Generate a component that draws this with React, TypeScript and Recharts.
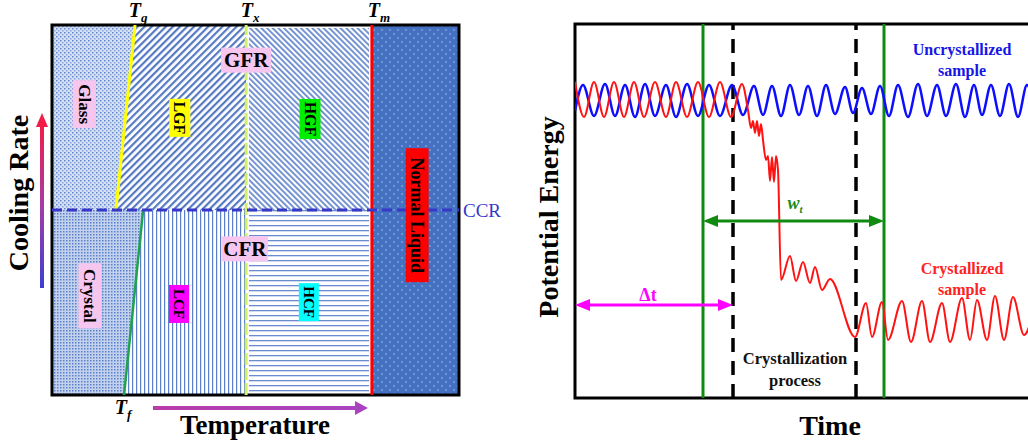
import React from 'react'
import {
  ComposedChart, Area, Line, XAxis, YAxis,
  ReferenceLine, ReferenceArea, ReferenceDot,
} from 'recharts'

const FONT = '"Liberation Serif", "Times New Roman", serif'
const PINK = '#f7c6ef'

// ---------- left panel: temperature (x 0-100) vs cooling rate (y 0-100)
const CCR = 50
const TX = 47.7
const TM = 78.6

const tgLine = [{ x: 15.7, y: 50 }, { x: 20.4, y: 100 }]
const tfLine = [{ x: 17.7, y: 0 }, { x: 22.4, y: 50 }]

// region outlines (each area is filled from its curve to a base value)
const glassRegion = [{ x: 0, y: 50 }, { x: 15.7, y: 50 }, { x: 20.4, y: 100 }]     // base 100
const lgfRegion = [{ x: 15.7, y: 50 }, { x: 20.4, y: 100 }, { x: 47.7, y: 100 }]  // base 50
const hgfRegion = [{ x: 48.4, y: 99.2 }, { x: 77.9, y: 99.2 }]                    // base 50
const crystalRegion = [{ x: 0, y: 0 }, { x: 17.7, y: 0 }, { x: 22.4, y: 50 }]      // base 50
const lcfRegion = [{ x: 17.7, y: 0 }, { x: 22.4, y: 50 }, { x: 47.7, y: 50 }]     // base 0
const hcfRegion = [{ x: 48.4, y: 50 }, { x: 77.9, y: 50 }]                        // base 0
const liquidRegion = [{ x: 78.6, y: 100 }, { x: 100, y: 100 }]                    // base 0

// ---------- right panel: time (0-460) vs potential energy (0-374)
const uncrystallized = [
  [0, 287], [8, 313], [19, 282], [30, 314], [40, 282], [50, 313], [60, 281], [70, 314],
  [80, 282], [91, 313], [101, 281], [112, 314], [123, 282], [134, 313], [145, 282], [157, 313],
  [168, 283], [179, 312], [188, 283], [197, 312], [206, 282], [215, 313], [224, 283], [233, 312],
  [242, 282], [251, 313], [260, 284], [270, 311], [278, 285], [287, 310], [296, 284], [305, 312],
  [314, 282], [323, 313], [333, 281], [343, 314], [352, 282], [362, 313], [371, 282], [381, 314],
  [390, 281], [399, 313], [407, 283], [416, 313], [425, 282], [434, 314], [443, 281], [452, 313],
  [460, 284],
].map(([t, e]) => ({ t, e }))

const crystallized = [
  [0, 316], [9, 281], [19, 316], [29, 281], [39, 316], [49, 281], [59, 316], [69, 281],
  [80, 316], [91, 281], [101, 316], [112, 281], [123, 316], [134, 281], [145, 316], [156, 281],
  [167, 314], [173, 288], [176, 270], [178, 277], [180, 265], [182, 277], [184, 262], [186, 274],
  [188, 258], [191, 238], [193, 242], [195, 217], [197, 241], [199, 216], [201, 242], [203, 228],
  [206, 118], [215, 142], [221, 117], [228, 136], [235, 115], [240, 131], [247, 108], [255, 119],
  [280, 61], [291, 95], [297, 61], [307, 96], [313, 58], [327, 97], [336, 56], [347, 97],
  [355, 56], [367, 95], [375, 56], [387, 100], [395, 58], [402, 98], [412, 58], [420, 102],
  [429, 58], [438, 101], [449, 63], [460, 92],
].map(([t, e]) => ({ t, e }))

const windowBounds = [128, 309]   // w_t, solid green
const processBounds = [158, 281]  // crystallization process, dashed black

// ---------- label helpers
function center(p: any) {
  const vb = p.viewBox || {}
  return { cx: (vb.x ?? 0) + (vb.width ?? 0) / 2, cy: (vb.y ?? 0) + (vb.height ?? 0) / 2 }
}

const boxLabel = (text: string, bg: string, w: number, h: number, fs: number, rot = 90) => (p: any) => {
  const { cx, cy } = center(p)
  return (
    <g transform={`translate(${cx},${cy}) rotate(${rot})`}>
      <rect x={-w / 2} y={-h / 2} width={w} height={h} fill={bg} />
      <text textAnchor="middle" dominantBaseline="central" fontFamily={FONT}
        fontWeight="bold" fontSize={fs} fill="#000">{text}</text>
    </g>
  )
}

const tLabel = (sub: string, dx: number, dy: number) => (p: any) => {
  const { cx, cy } = center(p)
  return (
    <text x={cx + dx} y={cy + dy} textAnchor="middle" fontFamily={FONT}
      fontWeight="bold" fontStyle="italic" fontSize={20} fill="#000">
      T<tspan fontSize={13} dy={5}>{sub}</tspan>
    </text>
  )
}

const lines = (rows: string[], color: string, fs: number, gap: number) => (p: any) => {
  const { cx, cy } = center(p)
  return (
    <text textAnchor="middle" fontFamily={FONT} fontWeight="bold" fontSize={fs} fill={color}>
      {rows.map((r, i) => (
        <tspan key={i} x={cx} y={cy + (i - (rows.length - 1) / 2) * gap} dominantBaseline="central">{r}</tspan>
      ))}
    </text>
  )
}

const arrowShape = (color: string, width: number, head: number, both: boolean) => (p: any) => {
  const { x1, y1, x2, y2 } = p
  return (
    <g>
      <line x1={both ? x1 + head : x1} y1={y1} x2={x2 - head} y2={y2} stroke={color} strokeWidth={width} />
      {both && <polygon points={`${x1},${y1} ${x1 + head + 1},${y1 - 6} ${x1 + head + 1},${y1 + 6}`} fill={color} />}
      <polygon points={`${x2},${y2} ${x2 - head - 1},${y2 - 6} ${x2 - head - 1},${y2 + 6}`} fill={color} />
    </g>
  )
}

function CoolingLabel(p: any) {
  const { x, y } = p.viewBox
  const ax = x + 42
  return (
    <g>
      <rect x={ax - 2} y={y + 100} width={4} height={163} fill="url(#gCool)" />
      <polygon points={`${ax},${y + 88} ${ax - 6},${y + 102} ${ax + 6},${y + 102}`} fill="#f21c48" />
      <text transform={`translate(${x + 18},${y + 168}) rotate(-90)`} textAnchor="middle"
        dominantBaseline="central" fontFamily={FONT} fontWeight="bold" fontSize={28} fill="#000">
        Cooling Rate
      </text>
    </g>
  )
}

function TemperatureLabel(p: any) {
  const { x, y } = p.viewBox
  return (
    <g>
      <rect x={x + 101} y={y + 11} width={204} height={4} fill="url(#gTemp)" />
      <polygon points={`${x + 316},${y + 13} ${x + 303},${y + 6} ${x + 303},${y + 20}`} fill="#a844c0" />
      <text x={x + 203} y={y + 30} textAnchor="middle" dominantBaseline="central"
        fontFamily={FONT} fontWeight="bold" fontSize={27} fill="#000">Temperature</text>
    </g>
  )
}

function EnergyLabel(p: any) {
  const { x, y, height } = p.viewBox
  return (
    <text transform={`translate(${x + 28},${y + height / 2 + 6}) rotate(-90)`} textAnchor="middle"
      dominantBaseline="central" fontFamily={FONT} fontWeight="bold" fontSize={28} fill="#000">
      Potential Energy
    </text>
  )
}

function TimeLabel(p: any) {
  const { x, y } = p.viewBox
  return (
    <text x={x + 255} y={y + 27} textAnchor="middle" dominantBaseline="central"
      fontFamily={FONT} fontWeight="bold" fontSize={28} fill="#000">Time</text>
  )
}

function WtLabel(p: any) {
  const { cx, cy } = center(p)
  return (
    <text x={cx} y={cy} textAnchor="middle" fontFamily={FONT} fontWeight="bold"
      fontStyle="italic" fontSize={18} fill="#1a8a1a">
      w<tspan fontSize={11} dy={4}>t</tspan>
    </text>
  )
}

function PhaseMap() {
  return (
    <ComposedChart width={520} height={446} margin={{ top: 25, right: 61, bottom: 0, left: 0 }}>
      <defs>
        <pattern id="pGlass" width="4" height="4" patternUnits="userSpaceOnUse">
          <rect width="4" height="4" fill="#d6e0f3" />
          <rect x="0" y="0" width="1.5" height="1.5" fill="#5f86cc" />
          <rect x="2" y="2" width="1.5" height="1.5" fill="#86a3da" />
        </pattern>
        <pattern id="pLgf" width="5" height="5" patternUnits="userSpaceOnUse" patternTransform="rotate(45)">
          <rect width="5" height="5" fill="#fff" />
          <rect width="2.2" height="5" fill="#5579c2" />
        </pattern>
        <pattern id="pHgf" width="4" height="4" patternUnits="userSpaceOnUse" patternTransform="rotate(-45)">
          <rect width="4" height="4" fill="#fff" />
          <rect width="1.8" height="4" fill="#6789cc" />
        </pattern>
        <pattern id="pLiquid" width="8" height="8" patternUnits="userSpaceOnUse">
          <rect width="8" height="8" fill="#4471c2" />
          <circle cx="2" cy="2" r="0.8" fill="#a8bfe8" />
          <circle cx="6" cy="6" r="0.8" fill="#a8bfe8" />
        </pattern>
        <pattern id="pCrystal" width="3" height="3" patternUnits="userSpaceOnUse">
          <rect width="3" height="3" fill="#c2d1ee" />
          <rect width="1.5" height="1.5" fill="#5a80c8" />
        </pattern>
        <pattern id="pLcf" width="4" height="4" patternUnits="userSpaceOnUse">
          <rect width="4" height="4" fill="#fff" />
          <rect width="1.2" height="4" fill="#5b80c9" />
        </pattern>
        <pattern id="pHcf" width="5" height="5" patternUnits="userSpaceOnUse">
          <rect width="5" height="5" fill="#fff" />
          <rect width="5" height="1.3" fill="#6a8bd0" />
        </pattern>
        <linearGradient id="gCool" x1="0" y1="0" x2="0" y2="1">
          <stop offset="0%" stopColor="#f21c48" />
          <stop offset="50%" stopColor="#a43ca6" />
          <stop offset="100%" stopColor="#3b3fd2" />
        </linearGradient>
        <linearGradient id="gTemp" x1="0" y1="0" x2="1" y2="0">
          <stop offset="0%" stopColor="#b83ca8" />
          <stop offset="100%" stopColor="#a844c0" />
        </linearGradient>
      </defs>
      <XAxis type="number" dataKey="x" domain={[0, 100]} allowDataOverflow height={51}
        tick={false} tickLine={false} axisLine={false} label={TemperatureLabel} />
      <YAxis type="number" dataKey="y" domain={[0, 100]} allowDataOverflow width={52}
        tick={false} tickLine={false} axisLine={false} label={CoolingLabel} />

      <Area data={glassRegion} dataKey="y" type="linear" baseValue={100} fill="url(#pGlass)" fillOpacity={1} stroke="none" isAnimationActive={false} />
      <Area data={lgfRegion} dataKey="y" type="linear" baseValue={CCR} fill="url(#pLgf)" fillOpacity={1} stroke="none" isAnimationActive={false} />
      <Area data={hgfRegion} dataKey="y" type="linear" baseValue={CCR} fill="url(#pHgf)" fillOpacity={1} stroke="none" isAnimationActive={false} />
      <Area data={crystalRegion} dataKey="y" type="linear" baseValue={CCR} fill="url(#pCrystal)" fillOpacity={1} stroke="none" isAnimationActive={false} />
      <Area data={lcfRegion} dataKey="y" type="linear" baseValue={0} fill="url(#pLcf)" fillOpacity={1} stroke="none" isAnimationActive={false} />
      <Area data={hcfRegion} dataKey="y" type="linear" baseValue={0} fill="url(#pHcf)" fillOpacity={1} stroke="none" isAnimationActive={false} />
      <Area data={liquidRegion} dataKey="y" type="linear" baseValue={0} fill="url(#pLiquid)" fillOpacity={1} stroke="none" isAnimationActive={false} />

      <Line data={tgLine} dataKey="y" type="linear" stroke="#ffff00" strokeWidth={3} dot={false} isAnimationActive={false} />
      <Line data={tfLine} dataKey="y" type="linear" stroke="#1fa34e" strokeWidth={2.5} dot={false} isAnimationActive={false} />

      <ReferenceLine x={TX} stroke="#d2f06a" strokeWidth={3} strokeDasharray="12 3" />
      <ReferenceLine x={TM} stroke="#ff0000" strokeWidth={3} />
      <ReferenceLine y={CCR} stroke="#3838c8" strokeWidth={3} strokeDasharray="10 5"
        label={{ value: 'CCR', position: 'right', fill: '#3838c8', fontSize: 19, fontFamily: FONT, offset: 4 }} />
      <ReferenceArea x1={0} x2={100} y1={0} y2={100} fill="none" fillOpacity={0} stroke="#000" strokeWidth={3} />

      <ReferenceDot x={7.9} y={78.6} r={0} fill="none" stroke="none" label={boxLabel('Glass', PINK, 48, 23, 17)} />
      <ReferenceDot x={31.4} y={74.9} r={0} fill="none" stroke="none" label={boxLabel('LGF', '#ffff00', 38, 21, 16)} />
      <ReferenceDot x={63.4} y={74.6} r={0} fill="none" stroke="none" label={boxLabel('HGF', '#00ee00', 40, 21, 16)} />
      <ReferenceDot x={47.7} y={90.5} r={0} fill="none" stroke="none" label={boxLabel('GFR', PINK, 50, 25, 21, 0)} />
      <ReferenceDot x={89.7} y={48.6} r={0} fill="none" stroke="none" label={boxLabel('Normal Liquid', '#ff0000', 134, 23, 18)} />
      <ReferenceDot x={9.3} y={26.8} r={0} fill="none" stroke="none" label={boxLabel('Crystal', PINK, 65, 23, 17)} />
      <ReferenceDot x={31.2} y={24.6} r={0} fill="none" stroke="none" label={boxLabel('LCF', '#ff00ff', 38, 20, 15)} />
      <ReferenceDot x={47.4} y={39.5} r={0} fill="none" stroke="none" label={boxLabel('CFR', PINK, 46, 25, 21, 0)} />
      <ReferenceDot x={63.1} y={25.1} r={0} fill="none" stroke="none" label={boxLabel('HCF', '#00ffff', 38, 20, 15)} />

      <ReferenceDot x={20.4} y={100} r={0} fill="none" stroke="none" label={tLabel('g', 3, -8)} />
      <ReferenceDot x={TX} y={100} r={0} fill="none" stroke="none" label={tLabel('x', 4, -8)} />
      <ReferenceDot x={TM} y={100} r={0} fill="none" stroke="none" label={tLabel('m', 7, -8)} />
      <ReferenceDot x={17.7} y={0} r={0} fill="none" stroke="none" label={tLabel('f', -1, 19)} />
    </ComposedChart>
  )
}

function EnergyTrace() {
  return (
    <ComposedChart width={520} height={446} margin={{ top: 24, right: 5, bottom: 0, left: 0 }}>
      <XAxis type="number" dataKey="t" domain={[0, 460]} allowDataOverflow height={48}
        tick={false} tickLine={false} axisLine={false} label={TimeLabel} />
      <YAxis type="number" dataKey="e" domain={[0, 374]} allowDataOverflow width={55}
        tick={false} tickLine={false} axisLine={false} label={EnergyLabel} />

      {processBounds.map(t => (
        <ReferenceLine key={t} x={t} stroke="#000" strokeWidth={3.5} strokeDasharray="14 9" />
      ))}
      {windowBounds.map(t => (
        <ReferenceLine key={t} x={t} stroke="#118a11" strokeWidth={3} />
      ))}

      <Line data={uncrystallized} dataKey="e" type="monotone" stroke="#0d0dff" strokeWidth={2.5} dot={false} isAnimationActive={false} />
      <Line data={crystallized} dataKey="e" type="monotone" stroke="#ff1212" strokeWidth={2} dot={false} isAnimationActive={false} />

      <ReferenceLine segment={[{ x: windowBounds[0], y: 177 }, { x: windowBounds[1], y: 177 }]}
        shape={arrowShape('#118a11', 3, 14, true)} />
      <ReferenceLine segment={[{ x: 0, y: 93 }, { x: processBounds[0], y: 93 }]}
        shape={arrowShape('#ff00ff', 3, 14, true)} />

      <ReferenceArea x1={0} x2={460} y1={0} y2={374} fill="none" fillOpacity={0} stroke="#000" strokeWidth={3} />

      <ReferenceDot x={220} y={189} r={0} fill="none" stroke="none" label={WtLabel} />
      <ReferenceDot x={73} y={103} r={0} fill="none" stroke="none" label={lines(['\u0394t'], '#ff00ff', 18, 0)} />
      <ReferenceDot x={387} y={338} r={0} fill="none" stroke="none" label={lines(['Uncrystallized', 'sample'], '#1515e6', 16, 21)} />
      <ReferenceDot x={387} y={119} r={0} fill="none" stroke="none" label={lines(['Crystallized', 'sample'], '#ff2222', 16, 21)} />
      <ReferenceDot x={220} y={29} r={0} fill="none" stroke="none" label={lines(['Crystallization', 'process'], '#111', 16.5, 22)} />
    </ComposedChart>
  )
}

export default function App() {
  return (
    <div style={{
      position: 'fixed', left: 0, top: 0, width: 1028, height: 446,
      overflow: 'hidden', background: '#fff', fontFamily: FONT,
    }}>
      <div style={{ position: 'absolute', left: 0, top: 0 }}>
        <PhaseMap />
      </div>
      <div style={{ position: 'absolute', left: 520, top: 0 }}>
        <EnergyTrace />
      </div>
    </div>
  )
}
